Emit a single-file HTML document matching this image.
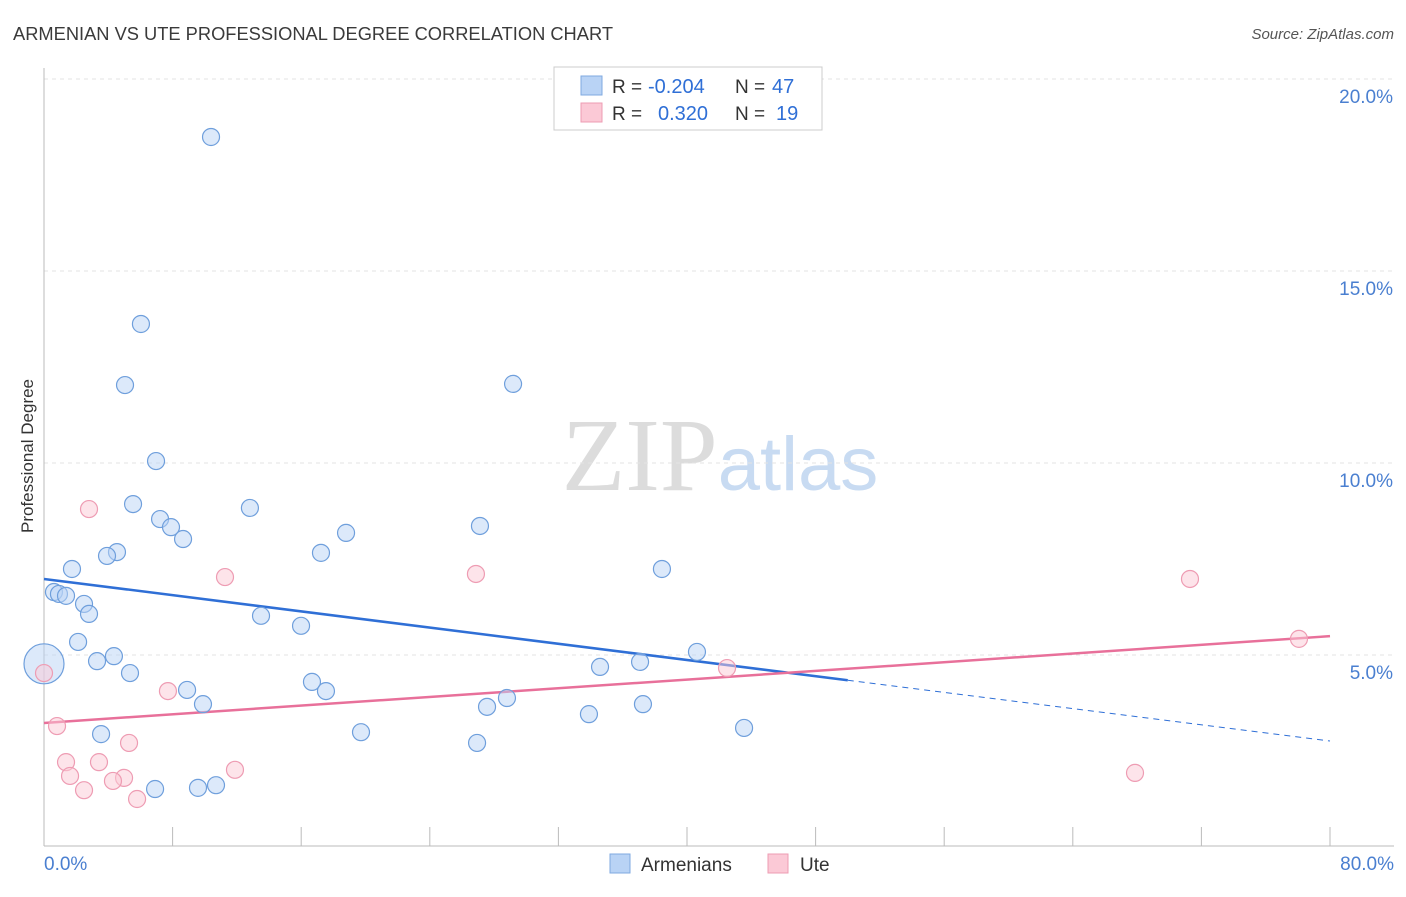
<!DOCTYPE html>
<html><head><meta charset="utf-8"><style>
body{margin:0;background:#fff;font-family:"Liberation Sans",sans-serif}
svg text{font-family:"Liberation Sans",sans-serif}
</style></head><body>
<svg id="chart" width="1406" height="892" xmlns="http://www.w3.org/2000/svg">
<text x="13" y="40" font-size="18.3" fill="#3a3a3a">ARMENIAN VS UTE PROFESSIONAL DEGREE CORRELATION CHART</text>
<text x="1394" y="39" font-size="15" fill="#555" text-anchor="end" font-style="italic">Source: ZipAtlas.com</text>
<text transform="translate(33,456) rotate(-90)" font-size="17" fill="#333" text-anchor="middle">Professional Degree</text>
<text x="720" y="490" font-size="104" text-anchor="middle"><tspan fill="#dcdcdc" font-family="Liberation Serif">ZIP</tspan><tspan fill="#c8dbf2" font-size="76">atlas</tspan></text>
<g id="grid"></g><g id="axes"></g><g id="lines"></g><g id="pts"></g>
<g>
<rect x="554" y="67" width="268" height="63" fill="#fff" stroke="#ccc"/>
<rect x="581" y="76" width="21" height="19" fill="#b9d3f5" stroke="#7fa9e0"/>
<rect x="581" y="103" width="21" height="19" fill="#fbc9d6" stroke="#ee9cb3"/>
<text x="612" y="93" font-size="19" fill="#333">R =</text>
<text x="648" y="93" font-size="20" fill="#2f6fd6">-0.204</text>
<text x="735" y="93" font-size="19" fill="#333">N =</text>
<text x="772" y="93" font-size="20" fill="#2f6fd6">47</text>
<text x="612" y="120" font-size="19" fill="#333">R =</text>
<text x="658" y="120" font-size="20" fill="#2f6fd6">0.320</text>
<text x="735" y="120" font-size="19" fill="#333">N =</text>
<text x="776" y="120" font-size="20" fill="#2f6fd6">19</text>
</g>
<g>
<rect x="610" y="854" width="20" height="19" fill="#b9d3f5" stroke="#7fa9e0"/>
<text x="641" y="871" font-size="19" fill="#333">Armenians</text>
<rect x="768" y="854" width="20" height="19" fill="#fbc9d6" stroke="#ee9cb3"/>
<text x="800" y="871" font-size="19" fill="#333">Ute</text>
</g>
</svg>
<script>
const xTicks=[0,8,16,24,32,40,48,56,64,72,80];
const yTicks=[5,10,15,20];
const armX=[10.39,6.03,5.04,29.18,6.97,5.54,12.81,7.22,7.90,27.12,8.65,18.79,4.54,3.92,17.23,1.74,38.44,0.62,0.93,1.37,2.49,2.80,13.50,15.99,2.12,4.35,3.30,40.62,34.59,37.08,5.35,16.67,8.90,17.54,28.80,9.89,27.56,37.26,33.90,3.55,19.72,43.55,26.94,6.91,9.58,10.70,0];
const armY=[18.49,13.62,12.03,12.06,10.05,8.93,8.83,8.54,8.33,8.36,8.02,8.18,7.68,7.58,7.66,7.24,7.24,6.64,6.59,6.54,6.33,6.07,6.02,5.76,5.34,4.97,4.84,5.08,4.69,4.82,4.53,4.30,4.09,4.06,3.88,3.72,3.65,3.72,3.46,2.94,2.99,3.10,2.71,1.51,1.54,1.61,4.77];
const uteX=[2.80,11.26,26.87,71.29,78.07,42.49,7.71,0.81,0,5.29,1.37,3.42,1.62,4.98,4.29,11.88,2.49,5.79,67.87];
const uteY=[8.80,7.03,7.11,6.98,5.42,4.66,4.06,3.15,4.53,2.71,2.21,2.21,1.85,1.80,1.72,2.01,1.48,1.25,1.93];
const armTrend=[6.98,2.76]; const armSolidEnd=50;
const uteTrend=[3.23,5.49];
const X=v=>44+v*16.075, Y=v=>847-v*38.4;
const NS='http://www.w3.org/2000/svg';
function mk(p,t,a){const e=document.createElementNS(NS,t);for(const k in a)e.setAttribute(k,a[k]);document.getElementById(p).appendChild(e);return e;}
yTicks.forEach(t=>{
 const l=mk('grid','line',{x1:44,x2:1394,y1:Y(t),y2:Y(t),stroke:'#e3e3e3','stroke-dasharray':'4,4'});
 
 
 const tx=mk('grid','text',{x:1393,y:Y(t)+24,'font-size':19,fill:'#4a7fd0','text-anchor':'end'});
 tx.textContent=t.toFixed(1)+'%';
 
 
});
const ax=mk('axes','line',{x1:44,x2:44,y1:68,y2:846,stroke:'#bbb'});


const bx=mk('axes','line',{x1:44,x2:1394,y1:846,y2:846,stroke:'#bbb'});


xTicks.forEach(t=>{
 const l=mk('axes','line',{x1:X(t),x2:X(t),y1:827,y2:846,stroke:'#bbb'});
 
 
});
[[0,'0.0%','start',44],[80,'80.0%','end',1394]].forEach(a=>{
 const tx=mk('axes','text',{x:a[3],y:870,'font-size':19,fill:'#4a7fd0','text-anchor':a[2]});
 tx.textContent=a[1];
 
 
});
const aAt=v=>armTrend[0]+(armTrend[1]-armTrend[0])*v/80;
const l1=mk('lines','line',{x1:X(0),y1:Y(aAt(0)),x2:X(armSolidEnd),y2:Y(aAt(armSolidEnd)),stroke:'#2f6fd6','stroke-width':2.5});


const l2=mk('lines','line',{x1:X(armSolidEnd),y1:Y(aAt(armSolidEnd)),x2:X(80),y2:Y(aAt(80)),stroke:'#2f6fd6','stroke-width':1,'stroke-dasharray':'6,5'});


const l3=mk('lines','line',{x1:X(0),y1:Y(uteTrend[0]),x2:X(80),y2:Y(uteTrend[1]),stroke:'#e8709a','stroke-width':2.5});


armX.forEach((v,i)=>{
 const big=(i===armX.length-1);
 const c=mk('pts','circle',{cx:X(v),cy:Y(armY[i]),r:big?20:8.5,fill:'#b9d3f5','fill-opacity':0.5,stroke:'#6f9fdc','stroke-width':1.2});
 
 
});
uteX.forEach((v,i)=>{
 const c=mk('pts','circle',{cx:X(v),cy:Y(uteY[i]),r:8.5,fill:'#fbc9d6','fill-opacity':0.5,stroke:'#ee9cb3','stroke-width':1.2});
 
 
});
</script>
</body></html>
